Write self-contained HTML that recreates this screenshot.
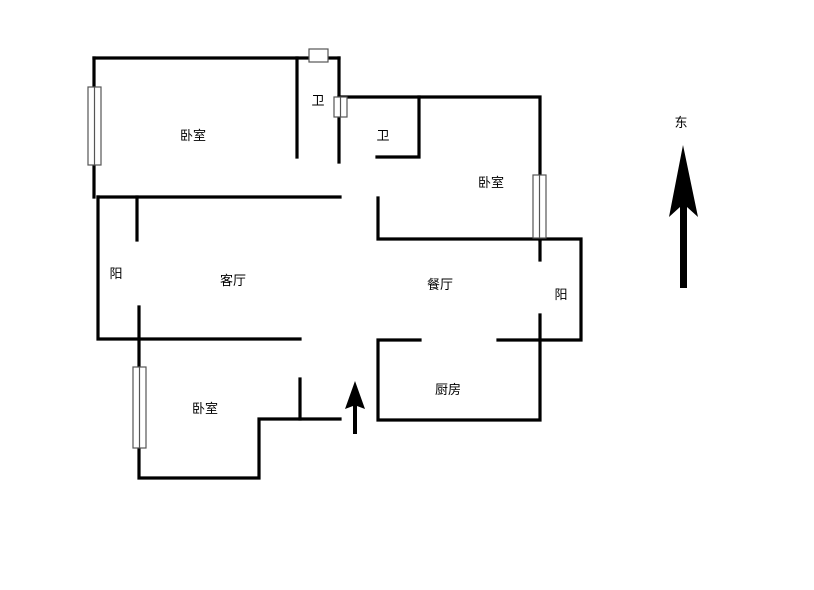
<!DOCTYPE html>
<html><head><meta charset="utf-8"><style>
html,body{margin:0;padding:0;background:#fff}
svg text{font-family:"Liberation Sans","Noto Sans CJK SC",sans-serif;font-size:13px;fill:#000}
</style></head><body>
<svg width="814" height="585" viewBox="0 0 814 585" xmlns="http://www.w3.org/2000/svg">
<g stroke="#000" stroke-width="3.2" fill="none" stroke-linecap="square">
<path d="M94 58H339"/>
<path d="M94 58V197"/>
<path d="M297 58V157"/>
<path d="M339 58V162"/>
<path d="M339 97H540V240"/>
<path d="M419 97V157H377"/>
<path d="M98 197H340"/>
<path d="M98 197V339H300"/>
<path d="M137 197V240"/>
<path d="M378 198V239H581V340H498"/>
<path d="M540 239V260"/>
<path d="M540 315V420H378V340H420"/>
<path d="M139 307V478H259V419H340"/>
<path d="M300 379V419"/>
</g>
<g stroke="#555" stroke-width="1.2" fill="#fff">
<rect x="309" y="49" width="19" height="13"/>
<rect x="88" y="87" width="13" height="78"/><line x1="94.5" y1="87" x2="94.5" y2="165"/>
<rect x="334" y="97" width="13" height="20"/><line x1="340.5" y1="97" x2="340.5" y2="117"/>
<rect x="533" y="175" width="13" height="63"/><line x1="539.5" y1="175" x2="539.5" y2="238"/>
<rect x="133" y="367" width="13" height="81"/><line x1="139.5" y1="367" x2="139.5" y2="448"/>
</g>
<polygon points="355,381 365,409 357,406 357,434 353,434 353,406 345,409" fill="#000"/>
<polygon points="683,145 698,217 687,207 687,288 680,288 680,207 669,217" fill="#000"/>
<g text-anchor="middle">
<text x="193" y="140">卧室</text>
<text x="318" y="105">卫</text>
<text x="383" y="140">卫</text>
<text x="491" y="187">卧室</text>
<text x="116" y="278">阳</text>
<text x="233" y="285">客厅</text>
<text x="440" y="289">餐厅</text>
<text x="561" y="299">阳</text>
<text x="448" y="394">厨房</text>
<text x="205" y="413">卧室</text>
<text x="681" y="127">东</text>
</g>
</svg>
</body></html>
